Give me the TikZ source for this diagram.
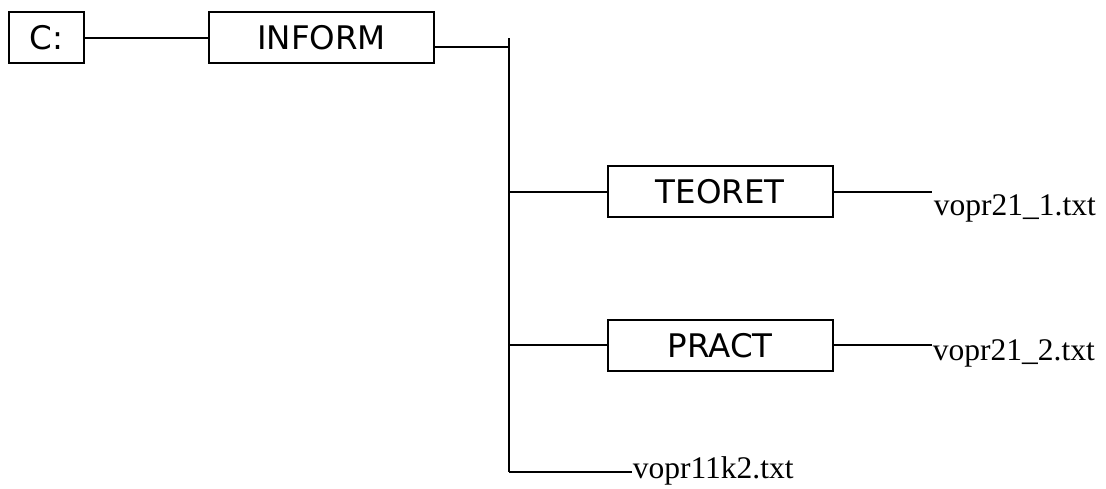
\documentclass[tikz,border=0pt]{standalone}
\usepackage{fontspec}
\setmainfont{Liberation Serif}
\newfontfamily\boxfont{DejaVu Sans}
\begin{document}
\begin{tikzpicture}[x=1pt,y=-1pt,
  line width=1.8pt,
  dirbox/.style={draw, line width=1.8pt, minimum height=51pt, inner sep=0pt,
    font=\boxfont\fontsize{32.5}{36}\selectfont},
  filelabel/.style={anchor=base west, inner sep=0pt,
    font=\fontsize{31.5}{36}\selectfont}]
\useasboundingbox (0,0) rectangle (1106,489);
\node[dirbox, minimum width=74.7pt] (C) at (46.7,37.7) {C:};
\node[dirbox, minimum width=224.4pt] (INF) at (321.5,37.7) {INFORM};
\node[dirbox, minimum width=224.7pt] (TEO) at (720.3,191.8) {TEORET};
\node[dirbox, minimum width=224.7pt, minimum height=50.7pt] (PRA) at (720.3,345.3) {PRACT};
\coordinate (ttop) at (508.7,38.3);
\coordinate (tjoin) at (508.7,47.3);
\coordinate (tbot) at (508.7,472.3);
\coordinate (e1) at (932,191.8);
\coordinate (e2) at (932,345.3);
\coordinate (e3) at (632,472.3);
\node[filelabel] (f1) at (933,215.7) {vopr21\_1.txt};
\node[filelabel] (f2) at (932,360) {vopr21\_2.txt};
\node[filelabel] (f3) at (632,478.3) {vopr11k2.txt};
\draw (C.east) -- (INF.west);
\draw (INF.east |- tjoin) -- (tjoin);
\draw (ttop) -- (tbot);
\draw (TEO.west -| ttop) -- (TEO.west);
\draw (PRA.west -| ttop) -- (PRA.west);
\draw (tbot) -- (e3);
\draw (TEO.east) -- (e1);
\draw (PRA.east) -- (e2);
\end{tikzpicture}
\end{document}
